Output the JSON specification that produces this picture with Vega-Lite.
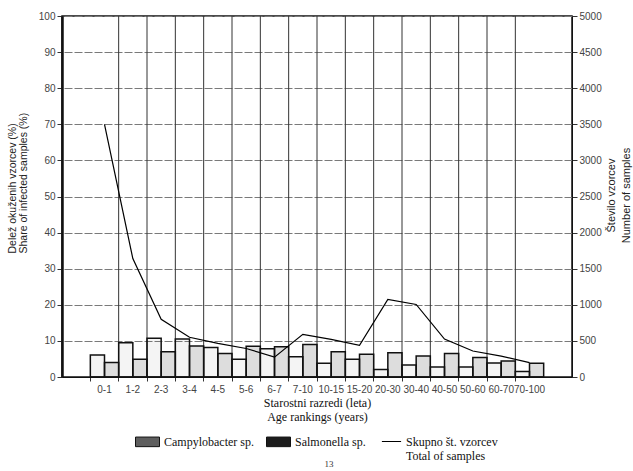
{
  "$schema": "https://vega.github.io/schema/vega-lite/v6.json",
  "width": 510,
  "height": 361,
  "autosize": {"type": "none"},
  "padding": {"left": 62, "top": 16, "right": 61, "bottom": 94},
  "background": "white",
  "title": {"text": "13", "orient": "bottom", "anchor": "middle", "fontSize": 9, "font": "Liberation Serif", "fontWeight": "normal", "color": "#333", "offset": -2, "dx": 12},
  "config": {
    "font": "Liberation Sans",
    "view": {"stroke": "#111", "strokeWidth": 1.5},
    "axis": {"labelColor": "#444", "labelFontSize": 10, "tickColor": "#333", "domainColor": "#111", "titleColor": "#222", "titleFontWeight": "normal"}
  },
  "datasets": {
    "main": [
      {"cat": "0-1", "campylobacter": 6.1, "salmonella": 4.0, "total": 3500},
      {"cat": "1-2", "campylobacter": 9.5, "salmonella": 4.9, "total": 1640},
      {"cat": "2-3", "campylobacter": 10.7, "salmonella": 7.0, "total": 800},
      {"cat": "3-4", "campylobacter": 10.5, "salmonella": 8.6, "total": 550},
      {"cat": "4-5", "campylobacter": 8.2, "salmonella": 6.5, "total": 465},
      {"cat": "5-6", "campylobacter": 4.9, "salmonella": 8.5, "total": 395},
      {"cat": "6-7", "campylobacter": 7.8, "salmonella": 8.4, "total": 275},
      {"cat": "7-10", "campylobacter": 5.6, "salmonella": 9.0, "total": 590},
      {"cat": "10-15", "campylobacter": 3.8, "salmonella": 7.0, "total": 520},
      {"cat": "15-20", "campylobacter": 4.9, "salmonella": 6.3, "total": 440},
      {"cat": "20-30", "campylobacter": 2.1, "salmonella": 6.7, "total": 1075},
      {"cat": "30-40", "campylobacter": 3.3, "salmonella": 5.8, "total": 1005},
      {"cat": "40-50", "campylobacter": 2.8, "salmonella": 6.5, "total": 525},
      {"cat": "50-60", "campylobacter": 2.8, "salmonella": 5.4, "total": 360},
      {"cat": "60-70", "campylobacter": 3.9, "salmonella": 4.4, "total": 290},
      {"cat": "70-100", "campylobacter": 1.5, "salmonella": 3.8, "total": 200}
    ]
  },
  "data": {"name": "main"},
  "layer": [
    {
      "transform": [{"filter": "datum.cat !== '0-1'"}],
      "mark": {"type": "rule", "color": "#333333", "strokeWidth": 1},
      "encoding": {
        "x": {
          "field": "cat", "type": "nominal", "bandPosition": 0,
          "scale": {"domain": ["0-1","1-2","2-3","3-4","4-5","5-6","6-7","7-10","10-15","15-20","20-30","30-40","40-50","50-60","60-70","70-100"], "paddingInner": 0, "paddingOuter": 1.6},
          "axis": {"labelAngle": 0, "labelOverlap": false, "labelBound": false, "bandPosition": 0, "tickSize": 4, "labelPadding": 3, "grid": false, "labelFontSize": 10,
                   "title": ["Starostni razredi (leta)", "Age rankings (years)"], "titleFont": "Liberation Serif", "titleFontSize": 12, "titlePadding": 3, "titleColor": "#111"}
        }
      }
    },
    {
      "transform": [{"fold": ["campylobacter", "salmonella"], "as": ["key", "value"]}],
      "mark": {"type": "bar", "stroke": "#111", "strokeWidth": 1.5, "strokeOpacity": 1},
      "encoding": {
        "x": {"field": "cat", "type": "nominal"},
        "xOffset": {"field": "key", "type": "nominal", "scale": {"domain": ["campylobacter", "salmonella"], "paddingInner": 0, "paddingOuter": 0}},
        "y": {
          "field": "value", "type": "quantitative", "scale": {"domain": [0, 100]},
          "axis": {"values": [0,10,20,30,40,50,60,70,80,90,100], "grid": false,
                   "domainWidth": 2.5, "tickSize": 5, "labelPadding": 2,
                   "title": ["Delež okuženih vzorcev (%)", "Share of infected samples (%)"], "titleFontSize": 10.5,
                   "titleAlign": "left", "titleBaseline": "middle", "titleAngle": -90, "titleX": -50, "titleY": 237, "titleLineHeight": 11}
        },
        "color": {
          "field": "key", "type": "nominal",
          "scale": {"domain": ["campylobacter", "salmonella"], "range": ["#5e5e5e", "#1c1c1c"]},
          "legend": {
            "orient": "none", "legendX": 79, "legendY": 419, "direction": "horizontal", "title": null,
            "labelFont": "Liberation Serif", "labelFontSize": 12, "labelColor": "#111", "columnPadding": 10, "labelOffset": 10,
            "symbolType": "M-2,-0.8H2V0.8H-2Z", "symbolSize": 144, "symbolOpacity": 1, "symbolStrokeColor": "#111", "symbolStrokeWidth": 1,
            "labelExpr": "datum.value === 'campylobacter' ? 'Campylobacter sp.' : 'Salmonella sp.'"
          }
        },
        "fillOpacity": {
          "field": "key", "type": "nominal",
          "scale": {"domain": ["campylobacter", "salmonella"], "range": [0.07, 0.15]},
          "legend": null
        }
      }
    },
    {
      "mark": {"type": "line", "strokeWidth": 1.2},
      "encoding": {
        "x": {"field": "cat", "type": "nominal"},
        "y": {
          "field": "total", "type": "quantitative", "scale": {"domain": [0, 5000]},
          "axis": {"orient": "right", "values": [0,500,1000,1500,2000,2500,3000,3500,4000,4500,5000], "format": "d", "grid": true, "gridColor": "#7a7a7a", "gridWidth": 1, "gridDash": [8, 2], "tickSize": 5, "labelPadding": 2,
                   "title": ["Število vzorcev", "Number of samples"], "titleFontSize": 11, "titleAngle": -90, "titleAlign": "center", "titleBaseline": "middle",
                   "titleX": 39, "titleY": 179, "titleLineHeight": 15}
        },
        "stroke": {
          "datum": "total", "type": "nominal",
          "scale": {"domain": ["total"], "range": ["#000000"]},
          "legend": {
            "orient": "none", "legendX": 323, "legendY": 419, "title": null,
            "labelFont": "Liberation Serif", "labelFontSize": 12, "labelColor": "#111", "labelOffset": 8,
            "symbolType": "M-1.6,0H1.6", "symbolSize": 144, "symbolStrokeWidth": 1,
            "labelExpr": "['Skupno št. vzorcev', '  Total of samples']"
          }
        }
      }
    }
  ],
  "resolve": {"scale": {"y": "independent"}}
}
